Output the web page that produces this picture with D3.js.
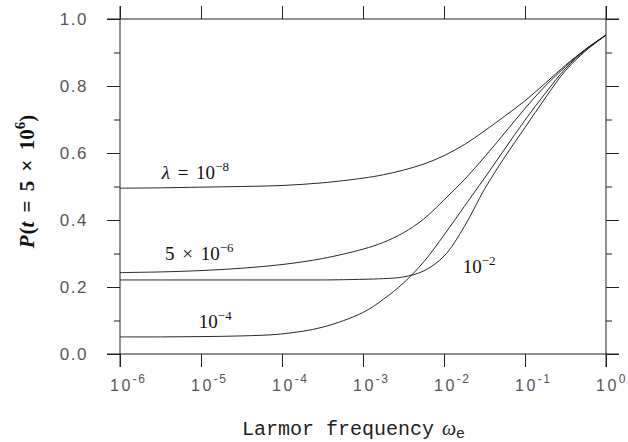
<!DOCTYPE html>
<html>
<head>
<meta charset="utf-8">
<script src="https://cdn.jsdelivr.net/npm/d3@7"></script>
<style>
  body { margin: 0; background: #fff; }
  svg { display: block; }
</style>
</head>
<body>
<div id="chart"></div>
<script>
// Larmor frequency sample points (log-spaced)
const omega = [1e-6, 3.162e-6, 1e-5, 3.162e-5, 1e-4, 3.162e-4, 1e-3, 1.778e-3,
  3.162e-3, 5.623e-3, 1e-2, 1.778e-2, 3.162e-2, 5.623e-2, 1e-1, 1.778e-1, 3.162e-1, 5.623e-1, 1];

// P(t = 5e6) for each lambda
const pLam1e8 = [0.495, 0.496, 0.498, 0.500, 0.503, 0.511, 0.525, 0.535, 0.549, 0.567,
  0.592, 0.625, 0.666, 0.710, 0.756, 0.808, 0.862, 0.910, 0.952];
const pLam5e6 = [0.243, 0.245, 0.249, 0.256, 0.267, 0.285, 0.313, 0.333, 0.362, 0.403,
  0.460, 0.520, 0.588, 0.660, 0.733, 0.800, 0.858, 0.910, 0.952];
const pLam1e4 = [0.051, 0.051, 0.052, 0.054, 0.060, 0.080, 0.124, 0.163, 0.212, 0.275,
  0.355, 0.440, 0.525, 0.612, 0.698, 0.778, 0.852, 0.908, 0.952];
const pLam1e2 = [0.221, 0.221, 0.221, 0.221, 0.221, 0.221, 0.223, 0.225, 0.230, 0.248,
  0.292, 0.380, 0.492, 0.588, 0.676, 0.764, 0.846, 0.905, 0.952];

const xTicks = [1e-6, 1e-5, 1e-4, 1e-3, 1e-2, 1e-1, 1];
const xTickExp = ["-6", "-5", "-4", "-3", "-2", "-1", "0"];
const yTicks = [0, 0.2, 0.4, 0.6, 0.8, 1.0];
const yMinor = [0.1, 0.3, 0.5, 0.7, 0.9];

// curve labels, anchored in data space
const curveLabels = [
  { base: " = 10", exp: "\u22128", w: 3.27e-6, p: 0.522, lam: true },
  { base: "5 \u00d7 10", exp: "\u22126", w: 3.6e-6, p: 0.281 },
  { base: "10", exp: "\u22124", w: 9.4e-6, p: 0.078 },
  { base: "10", exp: "\u22122", w: 1.7e-2, p: 0.242 }
];

const width = 628, height = 442;
const margin = { top: 19, right: 22, bottom: 88, left: 120 };

const svg = d3.select("#chart").append("svg")
  .attr("width", width)
  .attr("height", height);

const x = d3.scaleLog().domain([1e-6, 1]).range([margin.left, width - margin.right]);
const y = d3.scaleLinear().domain([0, 1]).range([height - margin.bottom, margin.top]);

const [x0, x1] = x.range();
const [yb, yt] = y.range();
const majorLen = 13, minorLen = 6;
const axisColor = "#222";

// frame lines, running past the corners like the original
const frame = svg.append("g").attr("stroke", axisColor).attr("stroke-width", 1);
frame.append("line").attr("x1", x0 - majorLen).attr("x2", x1 + majorLen).attr("y1", yb).attr("y2", yb);
frame.append("line").attr("x1", x0 - majorLen).attr("x2", x1 + majorLen).attr("y1", yt).attr("y2", yt);
frame.append("line").attr("x1", x0).attr("x2", x0).attr("y1", yt - majorLen).attr("y2", yb + majorLen);
frame.append("line").attr("x1", x1).attr("x2", x1).attr("y1", yt - majorLen).attr("y2", yb + majorLen);

function styleAxis(g) {
  g.select(".domain").remove();
  g.selectAll(".tick line").attr("stroke", axisColor);
}

// axes built from d3 axis generators (labels added by hand below)
svg.append("g").attr("transform", `translate(0,${yb})`)
  .call(d3.axisBottom(x).tickValues(xTicks).tickSize(majorLen).tickFormat(""))
  .call(styleAxis);
svg.append("g").attr("transform", `translate(0,${yt})`)
  .call(d3.axisTop(x).tickValues(xTicks).tickSize(majorLen).tickFormat(""))
  .call(styleAxis);
svg.append("g").attr("transform", `translate(${x0},0)`)
  .call(d3.axisLeft(y).tickValues(yTicks).tickSize(majorLen).tickFormat(""))
  .call(styleAxis);
svg.append("g").attr("transform", `translate(${x0},0)`)
  .call(d3.axisLeft(y).tickValues(yMinor).tickSize(minorLen).tickFormat(""))
  .call(styleAxis);
svg.append("g").attr("transform", `translate(${x1},0)`)
  .call(d3.axisRight(y).tickValues(yTicks).tickSize(majorLen).tickFormat(""))
  .call(styleAxis);
svg.append("g").attr("transform", `translate(${x1},0)`)
  .call(d3.axisRight(y).tickValues(yMinor).tickSize(minorLen).tickFormat(""))
  .call(styleAxis);

const tickFont = "'Liberation Sans', Arial, sans-serif";

// y tick labels
svg.append("g").selectAll("text")
  .data(yTicks)
  .join("text")
  .attr("x", x0 - 32)
  .attr("y", d => y(d))
  .attr("dy", "0.36em")
  .attr("text-anchor", "end")
  .attr("font-family", tickFont)
  .attr("font-size", 17)
  .attr("letter-spacing", 1.5)
  .attr("fill", "#555")
  .text(d3.format(".1f"));

// x tick labels: 10 with superscript exponent
const xl = svg.append("g").selectAll("text")
  .data(xTicks)
  .join("text")
  .attr("x", d => x(d) - 10)
  .attr("y", yb + 37)
  .attr("font-family", tickFont)
  .attr("font-size", 16)
  .attr("letter-spacing", 2.5)
  .attr("fill", "#555");
xl.append("tspan").text("10");
xl.append("tspan")
  .attr("dy", -8)
  .attr("font-size", 12)
  .attr("letter-spacing", 1.5)
  .text((d, i) => xTickExp[i]);

// axis titles
const xt = svg.append("text")
  .attr("x", 242)
  .attr("y", 435)
  .attr("font-family", "'Liberation Mono', 'Courier New', monospace")
  .attr("font-size", 20)
  .attr("fill", "#222");
xt.append("tspan").text("Larmor frequency");
xt.append("tspan").attr("font-family", "'Liberation Serif', serif").attr("font-style", "italic")
  .attr("dx", 8).text("\u03c9");
xt.append("tspan").attr("font-family", "'Liberation Sans', sans-serif").attr("font-size", 15)
  .attr("dy", 3).text("e");

const yt2 = svg.append("text")
  .attr("transform", `translate(34,${(yb + yt) / 2 - 5}) rotate(-90)`)
  .attr("text-anchor", "middle")
  .attr("font-family", "'Liberation Serif', 'Times New Roman', serif")
  .attr("font-weight", "bold")
  .attr("font-size", 21)
  .attr("word-spacing", 4)
  .attr("fill", "#111");
yt2.append("tspan").attr("font-style", "italic").text("P");
yt2.append("tspan").attr("dx", 1).text("(");
yt2.append("tspan").attr("font-style", "italic").text("t");
yt2.append("tspan").text(" = 5 \u00d7 10");
yt2.append("tspan").attr("dy", -9).attr("font-size", 15).text("6");
yt2.append("tspan").attr("dy", 9).text(")");

// curves
const series = [pLam1e8, pLam5e6, pLam1e4, pLam1e2];
const line = d3.line()
  .x((d, i) => x(omega[i]))
  .y(d => y(d))
  .curve(d3.curveCatmullRom.alpha(0.5));

svg.append("g")
  .selectAll("path")
  .data(series)
  .join("path")
  .attr("d", line)
  .attr("fill", "none")
  .attr("stroke", "#111")
  .attr("stroke-width", 0.9);

// curve labels
const cl = svg.append("g").selectAll("text")
  .data(curveLabels)
  .join("text")
  .attr("x", d => x(d.w))
  .attr("y", d => y(d.p))
  .attr("font-family", "'Liberation Serif', 'Times New Roman', serif")
  .attr("font-size", 19)
  .attr("word-spacing", 3)
  .attr("fill", "#111");
cl.filter(d => d.lam).append("tspan").attr("font-style", "italic").text("\u03bb");
cl.append("tspan").text(d => d.base);
cl.append("tspan").attr("dy", -8).attr("font-size", 13).text(d => d.exp);
</script>
</body>
</html>
